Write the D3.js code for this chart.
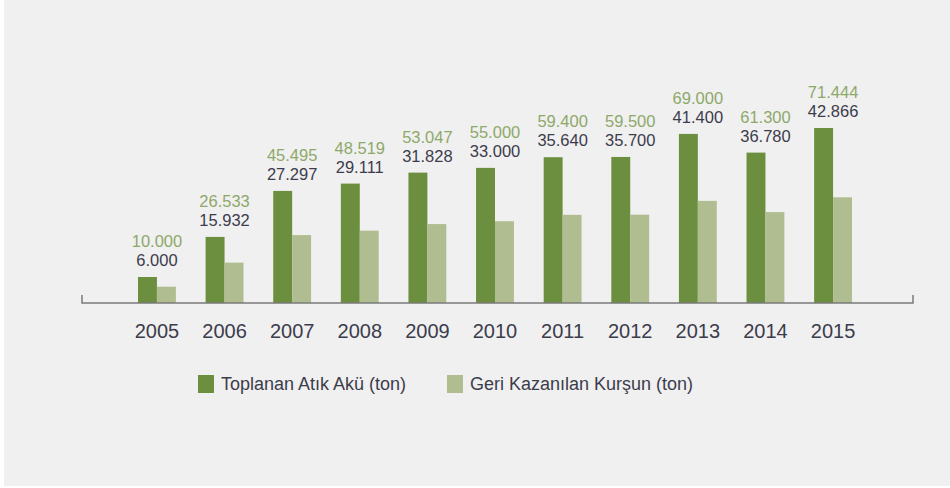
<!DOCTYPE html>
<html>
<head>
<meta charset="utf-8">
<script src="https://cdn.jsdelivr.net/npm/d3@7"></script>
<style>
  body { margin: 0; background: #fff; }
  svg { display: block; font-family: "Liberation Sans", Arial, sans-serif; }
</style>
</head>
<body>
<svg id="chart" width="950" height="488"></svg>
<script>
const years = ['2005', '2006', '2007', '2008', '2009', '2010', '2011', '2012', '2013', '2014', '2015'];
const collected = [10000, 26533, 45495, 48519, 53047, 55000, 59400, 59500, 69000, 61300, 71444];
const recovered = [6000, 15932, 27297, 29111, 31828, 33000, 35640, 35700, 41400, 36780, 42866];
const seriesNames = ['Toplanan Atık Akü (ton)', 'Geri Kazanılan Kurşun (ton)'];

const DARK = '#6b8f3f';
const LIGHT = '#b0bd90';
const LABEL_GREEN = '#8ea86a';
const LABEL_GRAY = '#3c3c4c';
const BASE_Y = 303;

const svg = d3.select('#chart');

// grey panel
svg.append('rect')
  .attr('x', 4).attr('y', 0)
  .attr('width', 946).attr('height', 486)
  .attr('fill', '#f0f0f0');

const x = d3.scaleBand()
  .domain(years)
  .range([138, 852])
  .paddingInner(0.44)
  .paddingOuter(0);

const inner = d3.scaleBand()
  .domain([0, 1])
  .range([0, x.bandwidth()]);

// bars start a hair above the baseline in the original
const y = d3.scaleLinear()
  .domain([0, 80000])
  .range([BASE_Y - 1.75, BASE_Y - 1.75 - 194]);

const fmt = v => d3.format(',')(v).replace(/,/g, '.');

const rows = years.map((yr, i) => ({ year: yr, values: [collected[i], recovered[i]] }));

const groups = svg.append('g')
  .selectAll('g')
  .data(rows)
  .enter()
  .append('g')
  .attr('transform', d => `translate(${x(d.year)},0)`);

groups.selectAll('rect')
  .data(d => d.values)
  .enter()
  .append('rect')
  .attr('x', (v, i) => inner(i))
  .attr('y', v => y(v))
  .attr('width', inner.bandwidth())
  .attr('height', v => BASE_Y - y(v))
  .attr('fill', (v, i) => i === 0 ? DARK : LIGHT);

// value labels above each group
groups.append('text')
  .attr('x', x.bandwidth() / 2)
  .attr('y', d => y(d.values[0]) - 11)
  .attr('text-anchor', 'middle')
  .attr('font-size', 16.5)
  .attr('fill', LABEL_GRAY)
  .text(d => fmt(d.values[1]));

groups.append('text')
  .attr('x', x.bandwidth() / 2)
  .attr('y', d => y(d.values[0]) - 30)
  .attr('text-anchor', 'middle')
  .attr('font-size', 16.5)
  .attr('fill', LABEL_GREEN)
  .text(d => fmt(d.values[0]));

// baseline axis with end ticks
svg.append('path')
  .attr('d', `M82,${BASE_Y - 8}V${BASE_Y}H913V${BASE_Y - 8}`)
  .attr('fill', 'none')
  .attr('stroke', '#7a7a7a')
  .attr('stroke-width', 1.5);

const xAxis = svg.append('g')
  .attr('transform', `translate(0,${BASE_Y})`)
  .call(d3.axisBottom(x).tickSize(0).tickPadding(21));
xAxis.select('.domain').remove();
xAxis.selectAll('text')
  .attr('font-size', 20)
  .attr('font-family', '"Liberation Sans", Arial, sans-serif')
  .attr('fill', LABEL_GRAY);

// legend
const legendX = [198, 447];
const legend = svg.append('g')
  .selectAll('g')
  .data(seriesNames)
  .enter()
  .append('g')
  .attr('transform', (d, i) => `translate(${legendX[i]},375)`);

legend.append('rect')
  .attr('width', 16).attr('height', 18)
  .attr('fill', (d, i) => i === 0 ? DARK : LIGHT);

legend.append('text')
  .attr('x', 23).attr('y', 15)
  .attr('font-size', 18)
  .attr('fill', LABEL_GRAY)
  .text(d => d);
</script>
</body>
</html>
